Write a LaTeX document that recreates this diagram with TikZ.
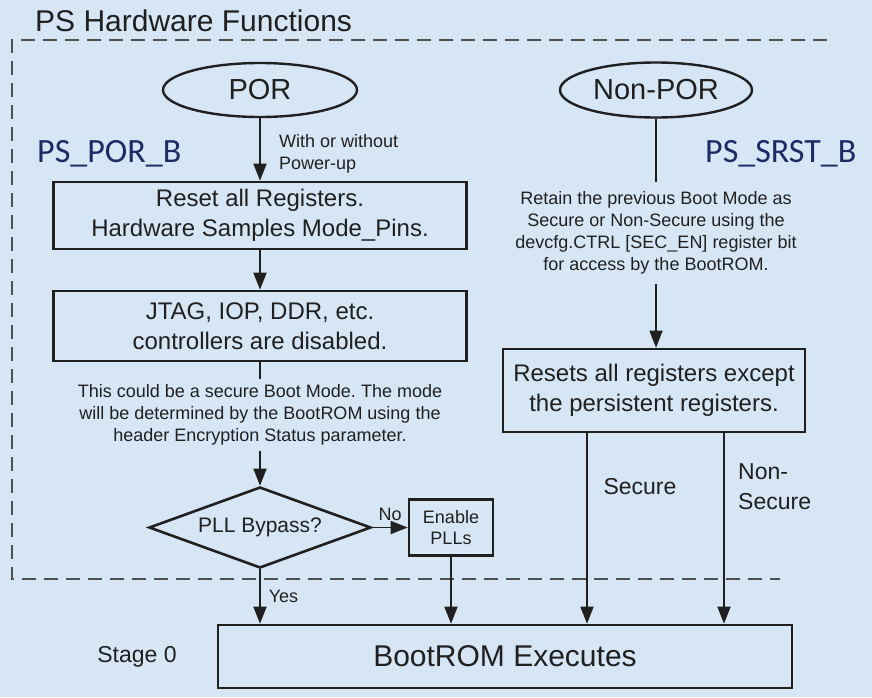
\documentclass[tikz,border=0pt]{standalone}
\usepackage{fontspec}
\setmainfont{Liberation Sans}
\newfontfamily\calfont{Carlito}
\usetikzlibrary{shapes.geometric,arrows.meta}
\definecolor{bg}{RGB}{214,230,245}
\definecolor{ink}{RGB}{32,32,32}
\definecolor{navy}{RGB}{30,42,100}
\definecolor{dashgray}{RGB}{80,80,80}
\frenchspacing
\tikzset{>={Triangle[length=17pt,width=13pt]}}
\tikzset{
  box/.style={draw=ink,line width=2.6pt,inner sep=0pt,align=center,text=ink,
    font=\fontsize{24}{30}\selectfont},
  oval/.style={ellipse,draw=ink,line width=2.4pt,inner sep=0pt,text=ink,
    font=\fontsize{29}{34}\selectfont},
  note/.style={inner sep=5pt,align=center,text=ink,font=\fontsize{18}{22}\selectfont},
  pin/.style={inner sep=0pt,text=navy,font=\calfont\fontsize{34}{40}\selectfont},
  flow/.style={->,draw=ink,line width=1.6pt},
  plain/.style={draw=ink,line width=1.6pt},
}

\begin{document}
\begin{tikzpicture}[x=1pt,y=-1pt]
    \fill[bg] (0,0) rectangle (872,697);
    \useasboundingbox (0,0) rectangle (872,697);
    % frame and title
    \node[anchor=base west,inner sep=0pt,text=ink,font=\fontsize{30}{36}\selectfont]
        (title) at (35,31) {PS Hardware Functions};
    \draw[dashgray,line width=1.8pt,dash pattern=on 14pt off 8pt]
        (827,40) -- (12,40) -- (12,579) -- (780,579);
    % POR side
    \node[oval,minimum width=194pt,minimum height=54pt] (por) at (260,90) {POR};
    \node[note,anchor=west,align=left,inner sep=0pt] (powerup) at (279,154)
        {With or without\\Power-up};
    \node[pin,anchor=base west] (porb) at (37,162) {PS\_POR\_B};
    \node[box,minimum width=413pt,minimum height=67pt] (reset) at (260,215.5)
        {Reset all Registers.\\Hardware Samples Mode\_Pins.};
    \node[box,minimum width=413pt,minimum height=70pt] (jtag) at (260,326)
        {JTAG, IOP, DDR, etc.\\controllers are disabled.};
    \node[note] (secnote) at (260,415)
        {This could be a secure Boot Mode. The mode\\will be determined by the BootROM using the\\header Encryption Status parameter.};
    \node[diamond,shape aspect=2.74,draw=ink,line width=2.6pt,inner sep=0pt,
        minimum width=222pt,minimum height=81pt,text=ink,font=\fontsize{21}{25}\selectfont]
        (pll) at (260,527.5) {PLL Bypass?};
    \node[box,minimum width=84pt,minimum height=56pt,font=\fontsize{18}{21}\selectfont]
        (enable) at (451,527.5) {Enable\\PLLs};
    % Non-POR side
    \node[oval,minimum width=192pt,minimum height=55pt] (nonpor) at (656,90) {Non-POR};
    \node[pin,anchor=base west] (srstb) at (705,162) {PS\_SRST\_B};
    \node[note,inner ysep=9pt] (retain) at (656,233)
        {Retain the previous Boot Mode as\\Secure or Non-Secure using the\\devcfg.CTRL [SEC\_EN] register bit\\for access by the BootROM.};
    \node[box,minimum width=302pt,minimum height=83pt] (resets) at (654,390.5)
        {Resets all registers except\\the persistent registers.};
    \node[note,font=\fontsize{23}{30}\selectfont] (secure) at (640,487) {Secure};
    \node[note,anchor=west,align=left,inner sep=0pt,font=\fontsize{23}{30}\selectfont]
        (nonsecure) at (738,487) {Non-\\Secure};
    % stage 0
    \node[box,minimum width=574pt,minimum height=63pt,font=\fontsize{30}{36}\selectfont]
        (bootrom) at (505,656.5) {BootROM Executes};
    \node[anchor=base,inner sep=0pt,text=ink,font=\fontsize{23}{28}\selectfont]
        (stage) at (137,662) {Stage 0};
    \coordinate (secx) at (587,0);
    \coordinate (nsecx) at (724,0);
    % connectors
    \draw[flow] (por) -- (reset);
    \draw[flow] (reset) -- (jtag);
    \draw[plain] (jtag) -- (secnote);
    \draw[flow] (secnote) -- (pll);
    \draw[flow] (pll) -- (enable)
        node[note,midway,above=6pt,inner sep=0pt] {No};
    \draw[flow] (pll) -- (pll |- bootrom.north)
        node[note,midway,right,inner sep=8pt] {Yes};
    \draw[flow] (enable) -- (enable |- bootrom.north);
    \draw[plain] (nonpor) -- (retain);
    \draw[flow] (retain.south) -- (retain.south |- resets.north);
    \draw[flow] (resets.south -| secx) -- (bootrom.north -| secx);
    \draw[flow] (resets.south -| nsecx) -- (bootrom.north -| nsecx);
\end{tikzpicture}
\end{document}
